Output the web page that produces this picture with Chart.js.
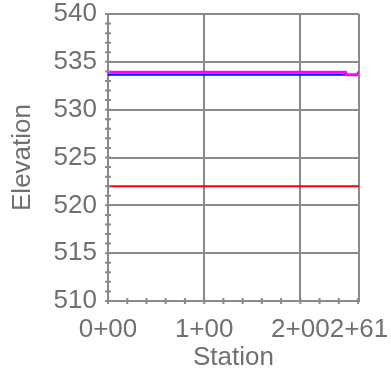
<!DOCTYPE html>
<html>
<head>
<meta charset="utf-8">
<script src="https://cdn.jsdelivr.net/npm/chart.js@4.4.0/dist/chart.umd.min.js"></script>
<style>
  html, body { margin: 0; padding: 0; background: #fff; }
  #wrap { width: 391px; height: 376px; }
</style>
</head>
<body>
<div id="wrap"><canvas id="profile"></canvas></div>
<script>
// station values in feet, elevations
const stationTicks = [0, 100, 200, 261];

const magentaStations = [0, 247, 248, 259, 261];
const magentaElev = [533.9, 533.9, 533.65, 533.65, 533.95];

const blueStations = [0, 247];
const blueElev = [533.65, 533.65];

const redStations = [0, 261];
const redElev = [522.0, 522.0];

const gray = '#8a8a8a';
const textGray = '#707070';
const font = { family: "'Liberation Sans', Arial, sans-serif", size: 26 };

const toPoints = (xs, ys) => xs.map((x, i) => ({ x: x, y: ys[i] }));

const fmtStation = (v) => {
    const hundreds = Math.floor(v / 100);
    const rest = Math.round(v - hundreds * 100);
    return hundreds + '+' + String(rest).padStart(2, '0');
};

// little tick marks straddling the axes (every 20 ft / every 1 ft)
const minorTicks = {
    id: 'minorTicks',
    afterDraw(chart) {
        const { ctx, scales: { x, y }, chartArea } = chart;
        ctx.save();
        ctx.strokeStyle = gray;
        ctx.lineWidth = 2;
        ctx.beginPath();
        for (let s = x.min; s <= x.max; s += 20) {
            const px = x.getPixelForValue(s);
            ctx.moveTo(px, chartArea.bottom - 3);
            ctx.lineTo(px, chartArea.bottom + 3);
        }
        for (let e = y.min; e <= y.max; e += 1) {
            const py = y.getPixelForValue(e);
            ctx.moveTo(chartArea.left - 3, py);
            ctx.lineTo(chartArea.left + 3, py);
        }
        ctx.stroke();
        ctx.restore();
    }
};

new Chart(document.getElementById('profile'), {
    type: 'line',
    data: {
        datasets: [
            {
                data: toPoints(magentaStations, magentaElev),
                borderColor: '#ff00ff',
                borderWidth: 3,
                pointRadius: 0,
                tension: 0,
            },
            {
                data: toPoints(blueStations, blueElev),
                borderColor: '#0000ff',
                borderWidth: 2,
                pointRadius: 0,
                tension: 0,
            },
            {
                data: toPoints(redStations, redElev),
                borderColor: '#ff0000',
                borderWidth: 2,
                pointRadius: 0,
                tension: 0,
            },
        ],
    },
    options: {
        responsive: true,
        maintainAspectRatio: false,
        animation: false,
        layout: { padding: { top: 14, right: 32, left: 0, bottom: 0 } },
        plugins: { legend: { display: false }, tooltip: { enabled: false } },
        scales: {
            x: {
                type: 'linear',
                min: 0,
                max: 261,
                afterBuildTicks: (scale) => {
                    scale.ticks = stationTicks.map(v => ({ value: v }));
                },
                afterFit: (scale) => {
                    scale.height = 75;
                    scale.paddingLeft = 0;
                    scale.paddingRight = 0;
                },
                ticks: {
                    autoSkip: false,
                    maxRotation: 0,
                    color: textGray,
                    font: font,
                    padding: 13,
                    callback: (v) => fmtStation(v),
                },
                grid: { color: gray, lineWidth: 2, drawTicks: false },
                border: { color: gray, width: 2 },
                title: {
                    display: true,
                    text: 'Station',
                    color: textGray,
                    font: font,
                    padding: { top: 0, bottom: 3 },
                },
            },
            y: {
                min: 510,
                max: 540,
                afterFit: (scale) => {
                    scale.width = 108;
                    scale.paddingTop = 0;
                    scale.paddingBottom = 0;
                },
                ticks: {
                    stepSize: 5,
                    color: textGray,
                    font: font,
                    padding: 11,
                },
                grid: { color: gray, lineWidth: 2, drawTicks: false },
                border: { color: gray, width: 2 },
                title: {
                    display: true,
                    text: 'Elevation',
                    color: textGray,
                    font: font,
                    padding: { top: 7, bottom: 0 },
                },
            },
        },
    },
    plugins: [minorTicks],
});
</script>
</body>
</html>
